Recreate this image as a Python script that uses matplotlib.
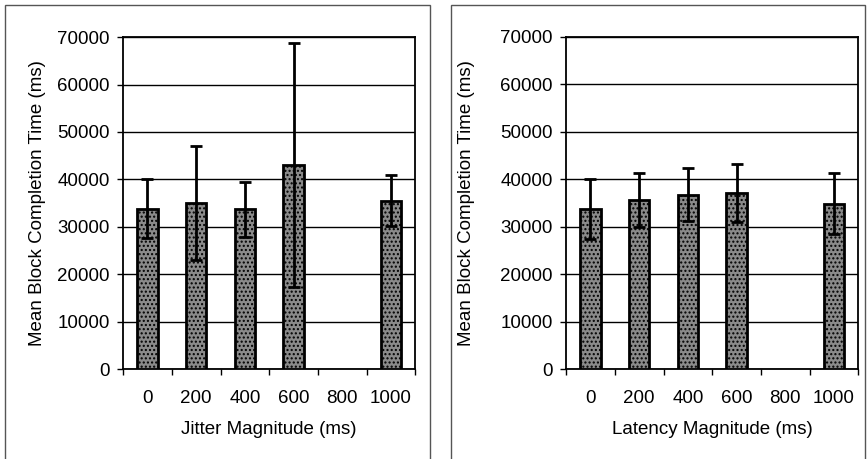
import numpy as np
import matplotlib.pyplot as plt
from matplotlib.patches import Rectangle

categories = ['0', '200', '400', '600', '800', '1000']

# mean completion time (ms), None where no bar was drawn
jitter_means = [33800, 35000, 33700, 43000, None, 35500]
jitter_err = [6200, 12000, 5800, 25700, None, 5400]

latency_means = [33700, 35600, 36700, 37000, None, 34800]
latency_err = [6300, 5600, 5600, 6100, None, 6400]

plt.rcParams['font.family'] = ['Liberation Sans', 'DejaVu Sans']

fig = plt.figure(figsize=(8.67, 4.59), dpi=100)
FS = 13.5


def draw_panel(rect, means, errs, xlabel, ypad):
    ax = fig.add_axes(rect)
    idx = [i for i, m in enumerate(means) if m is not None]
    pos = np.array(idx)
    h = [means[i] for i in idx]
    e = [errs[i] for i in idx]
    ax.bar(pos, h, width=0.42, color='#8a8a8a', edgecolor='black',
           linewidth=2.0, hatch='....', zorder=3)
    ax.errorbar(pos, h, yerr=e, fmt='none', ecolor='black', elinewidth=2.0,
                capsize=4, capthick=2.0, zorder=4)
    ax.set_xlim(-0.5, len(categories) - 0.5)
    ax.set_ylim(0, 70000)
    ax.set_yticks(np.arange(0, 70001, 10000))
    ax.set_xticks(np.arange(len(categories)))
    ax.set_xticklabels(categories)
    ax.set_xticks(np.arange(-0.5, len(categories)), minor=True)
    ax.tick_params(axis='x', which='major', length=0, pad=15, labelsize=FS)
    ax.tick_params(axis='x', which='minor', length=4, width=1, direction='out')
    ax.tick_params(axis='y', length=4.5, width=1, direction='out', labelsize=FS, pad=5)
    ax.grid(axis='y', color='black', linewidth=1.0, zorder=0)
    for s in ax.spines.values():
        s.set_linewidth(1.3)
    ax.set_ylabel('Mean Block Completion Time (ms)', fontsize=FS, labelpad=ypad)
    ax.set_xlabel(xlabel, fontsize=FS, labelpad=10)
    return ax


draw_panel([0.142, 0.196, 0.337, 0.723], jitter_means, jitter_err,
           'Jitter Magnitude (ms)', 8)
draw_panel([0.653, 0.196, 0.337, 0.724], latency_means, latency_err,
           'Latency Magnitude (ms)', 18)

# outer frames around each panel
for x0, x1 in [(5, 430), (451, 865)]:
    fig.patches.append(Rectangle((x0 / 867, -0.05), (x1 - x0) / 867, 1.04,
                                 transform=fig.transFigure, fill=False,
                                 edgecolor='#555555', linewidth=1.0))

plt.savefig('out.png', dpi=100)
plt.close()
